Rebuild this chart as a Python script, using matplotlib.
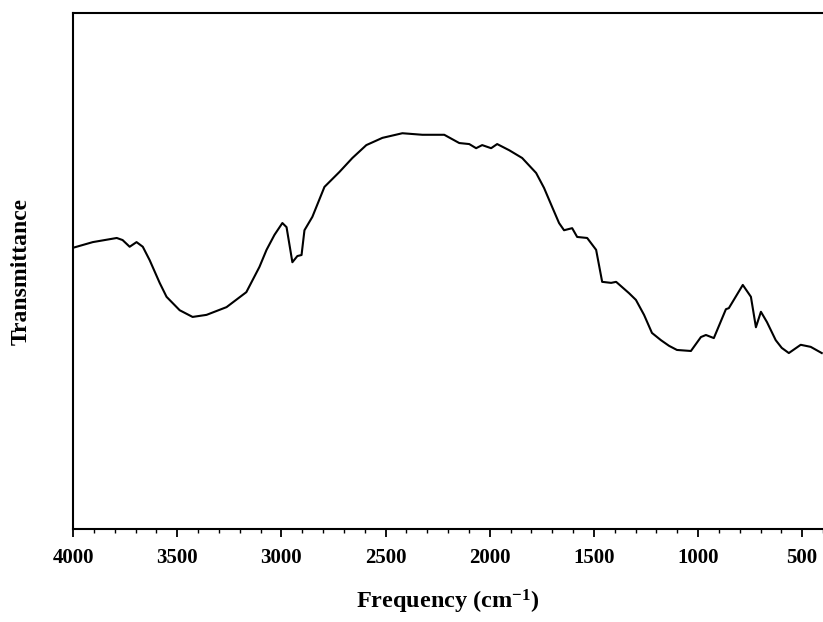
"""
plot.py
-------
FT-IR spectrum: transmittance vs. frequency (cm-1), reversed x axis.
Output: out.png (823x622)
"""

import matplotlib.pyplot as plt
from matplotlib.ticker import MultipleLocator


# ---------------------------------------------------------------------------
# Data (arbitrary transmittance units)
# ---------------------------------------------------------------------------

WAVENUMBER = [
    4000, 3905, 3790, 3762, 3728, 3695, 3665, 3632, 3584, 3551,
    3488, 3426, 3359, 3263, 3168, 3105, 3071, 3033, 2995, 2975,
    2947, 2923, 2903, 2889, 2851, 2793, 2721, 2659, 2592, 2515,
    2419, 2323, 2218, 2146, 2098, 2065, 2036, 1993, 1964, 1906,
    1844, 1777, 1739, 1700, 1667, 1643, 1604, 1580, 1532, 1489,
    1460, 1417, 1393, 1331, 1298, 1259, 1221, 1178, 1139, 1101,
    1034, 986, 962, 924, 866, 852, 785, 746, 722, 698,
    669, 627, 598, 564, 507, 459, 406,
]

TRANSMITTANCE = [
    54.5, 55.6, 56.4, 56.0, 54.7, 55.6, 54.7, 52.1, 47.7, 45.0,
    42.4, 41.1, 41.5, 43.0, 45.9, 50.8, 54.1, 57.0, 59.3, 58.5,
    51.7, 52.9, 53.1, 57.9, 60.5, 66.3, 69.2, 71.9, 74.4, 75.8,
    76.7, 76.4, 76.4, 74.8, 74.6, 73.8, 74.4, 73.8, 74.6, 73.4,
    71.9, 69.0, 66.1, 62.4, 59.3, 57.9, 58.3, 56.6, 56.4, 54.1,
    47.9, 47.7, 47.9, 45.7, 44.4, 41.5, 38.0, 36.6, 35.5, 34.7,
    34.5, 37.2, 37.6, 37.0, 42.6, 42.8, 47.3, 45.0, 39.1, 42.1,
    40.1, 36.6, 35.1, 34.1, 35.7, 35.3, 34.1,
]

X_TICKS = [4000, 3500, 3000, 2500, 2000, 1500, 1000, 500]

SERIF = ["Liberation Serif", "DejaVu Serif"]

plt.rcParams.update({
    "font.family": SERIF,
    "font.weight": "bold",
    "mathtext.fontset": "custom",
    "mathtext.rm": "Liberation Serif:bold",
    "mathtext.it": "Liberation Serif:bold",
    "mathtext.bf": "Liberation Serif:bold",
})


def main():
    fig = plt.figure(figsize=(8.23, 6.22), dpi=100)
    ax = fig.add_axes([0.0887, 0.1495, 0.9113, 0.8296])

    ax.plot(WAVENUMBER, TRANSMITTANCE, color="black", linewidth=1.5)

    ax.set_xlim(4000, 400)
    ax.set_ylim(0, 100)

    ax.set_xticks(X_TICKS)
    ax.set_xticklabels([str(t) for t in X_TICKS])
    ax.xaxis.set_minor_locator(MultipleLocator(100))
    ax.tick_params(axis="x", which="major", direction="out", length=6,
                   width=1.3, labelsize=15, pad=8)
    ax.tick_params(axis="x", which="minor", direction="out", length=3,
                   width=1.0)
    ax.set_yticks([])

    for side in ("left", "bottom", "top"):
        ax.spines[side].set_linewidth(1.5)
    ax.spines["right"].set_visible(False)

    ax.set_xlabel(r"Frequency (cm$^{\mathbf{-1}}$)", fontsize=17.5,
                  fontweight="bold", labelpad=14)
    ax.set_ylabel("Transmittance", fontsize=17, fontweight="bold",
                  labelpad=30)

    fig.savefig("out.png", dpi=100)
    plt.close(fig)


if __name__ == "__main__":
    main()
